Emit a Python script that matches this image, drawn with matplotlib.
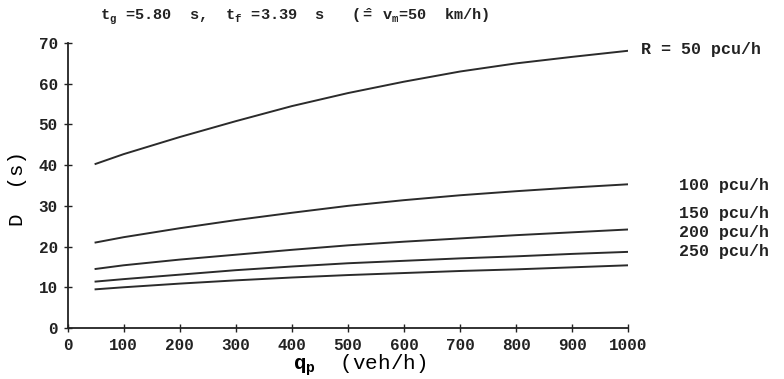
import numpy as np
import matplotlib
matplotlib.use("Agg")
import matplotlib.pyplot as plt

# traffic flow on the major road (veh/h)
q_p = [50, 100, 200, 300, 400, 500, 600, 700, 800, 900, 1000]

# delay D (s) for each reserve capacity R
d_r50 = [40.3, 42.7, 46.9, 50.8, 54.5, 57.7, 60.5, 63.0, 65.0, 66.6, 68.1]
d_r100 = [21.0, 22.3, 24.5, 26.5, 28.3, 30.0, 31.4, 32.6, 33.6, 34.5, 35.3]
d_r150 = [14.5, 15.4, 16.8, 18.0, 19.2, 20.3, 21.2, 22.0, 22.8, 23.5, 24.2]
d_r200 = [11.4, 12.0, 13.1, 14.2, 15.1, 15.9, 16.5, 17.1, 17.6, 18.2, 18.7]
d_r250 = [9.5, 10.0, 10.9, 11.7, 12.4, 13.0, 13.5, 14.0, 14.4, 14.9, 15.4]

series = [d_r50, d_r100, d_r150, d_r200, d_r250]
labels = ["R = 50 pcu/h", "100 pcu/h", "150 pcu/h", "200 pcu/h", "250 pcu/h"]
label_y = [68.3, 35.0, 28.0, 23.4, 18.8]
label_x = [1022, 1090, 1090, 1090, 1090]

plt.rcParams['font.family'] = ['Liberation Mono', 'DejaVu Sans']
plt.rcParams['font.weight'] = 'bold'
plt.rcParams['mathtext.fontset'] = 'custom'
plt.rcParams['mathtext.rm'] = 'Liberation Mono:bold'
plt.rcParams['mathtext.it'] = 'Liberation Mono:bold'
plt.rcParams['mathtext.bf'] = 'Liberation Mono:bold'
plt.rcParams['mathtext.fallback'] = 'stix'

fig = plt.figure(figsize=(7.84, 3.79), dpi=100)
ax = fig.add_axes([0.0861, 0.1346, 0.8014 - 0.0861, 0.8865 - 0.1346])

for d in series:
    ax.plot(q_p, d, color="#2b2b2b", lw=1.4)

for lab, x, y in zip(labels, label_x, label_y):
    ax.text(x, y, lab, fontsize=12, color="#222222", va="center",
            ha="left", clip_on=False)

ax.set_xlim(0, 1000)
ax.set_ylim(0, 70)
ax.set_xticks(range(0, 1001, 100))
ax.set_yticks(range(0, 71, 10))
ax.spines['top'].set_visible(False)
ax.spines['right'].set_visible(False)
ax.spines['left'].set_color("#222222")
ax.spines['bottom'].set_color("#222222")
ax.spines['left'].set_linewidth(1.3)
ax.spines['bottom'].set_linewidth(1.3)
ax.tick_params(direction='inout', length=6, width=1, colors="#222222",
               labelsize=11.5, pad=4)
for t in ax.get_xticklabels() + ax.get_yticklabels():
    t.set_fontweight('bold')

ax.set_xlabel(r"$q_p$  (veh/h)", fontsize=15, labelpad=0, x=0.52)
ax.set_ylabel(r"D  (s)", fontsize=15, labelpad=8, y=0.49)

fig.text(0.127, 0.955,
         r"$t_g$ =5.80  s,  $t_f$ =3.39  s   ($\hat{=}$ $v_m$=50  km/h)",
         fontsize=11, color="#222222", ha="left", va="center")

fig.savefig("out.png", dpi=100, facecolor="white")
